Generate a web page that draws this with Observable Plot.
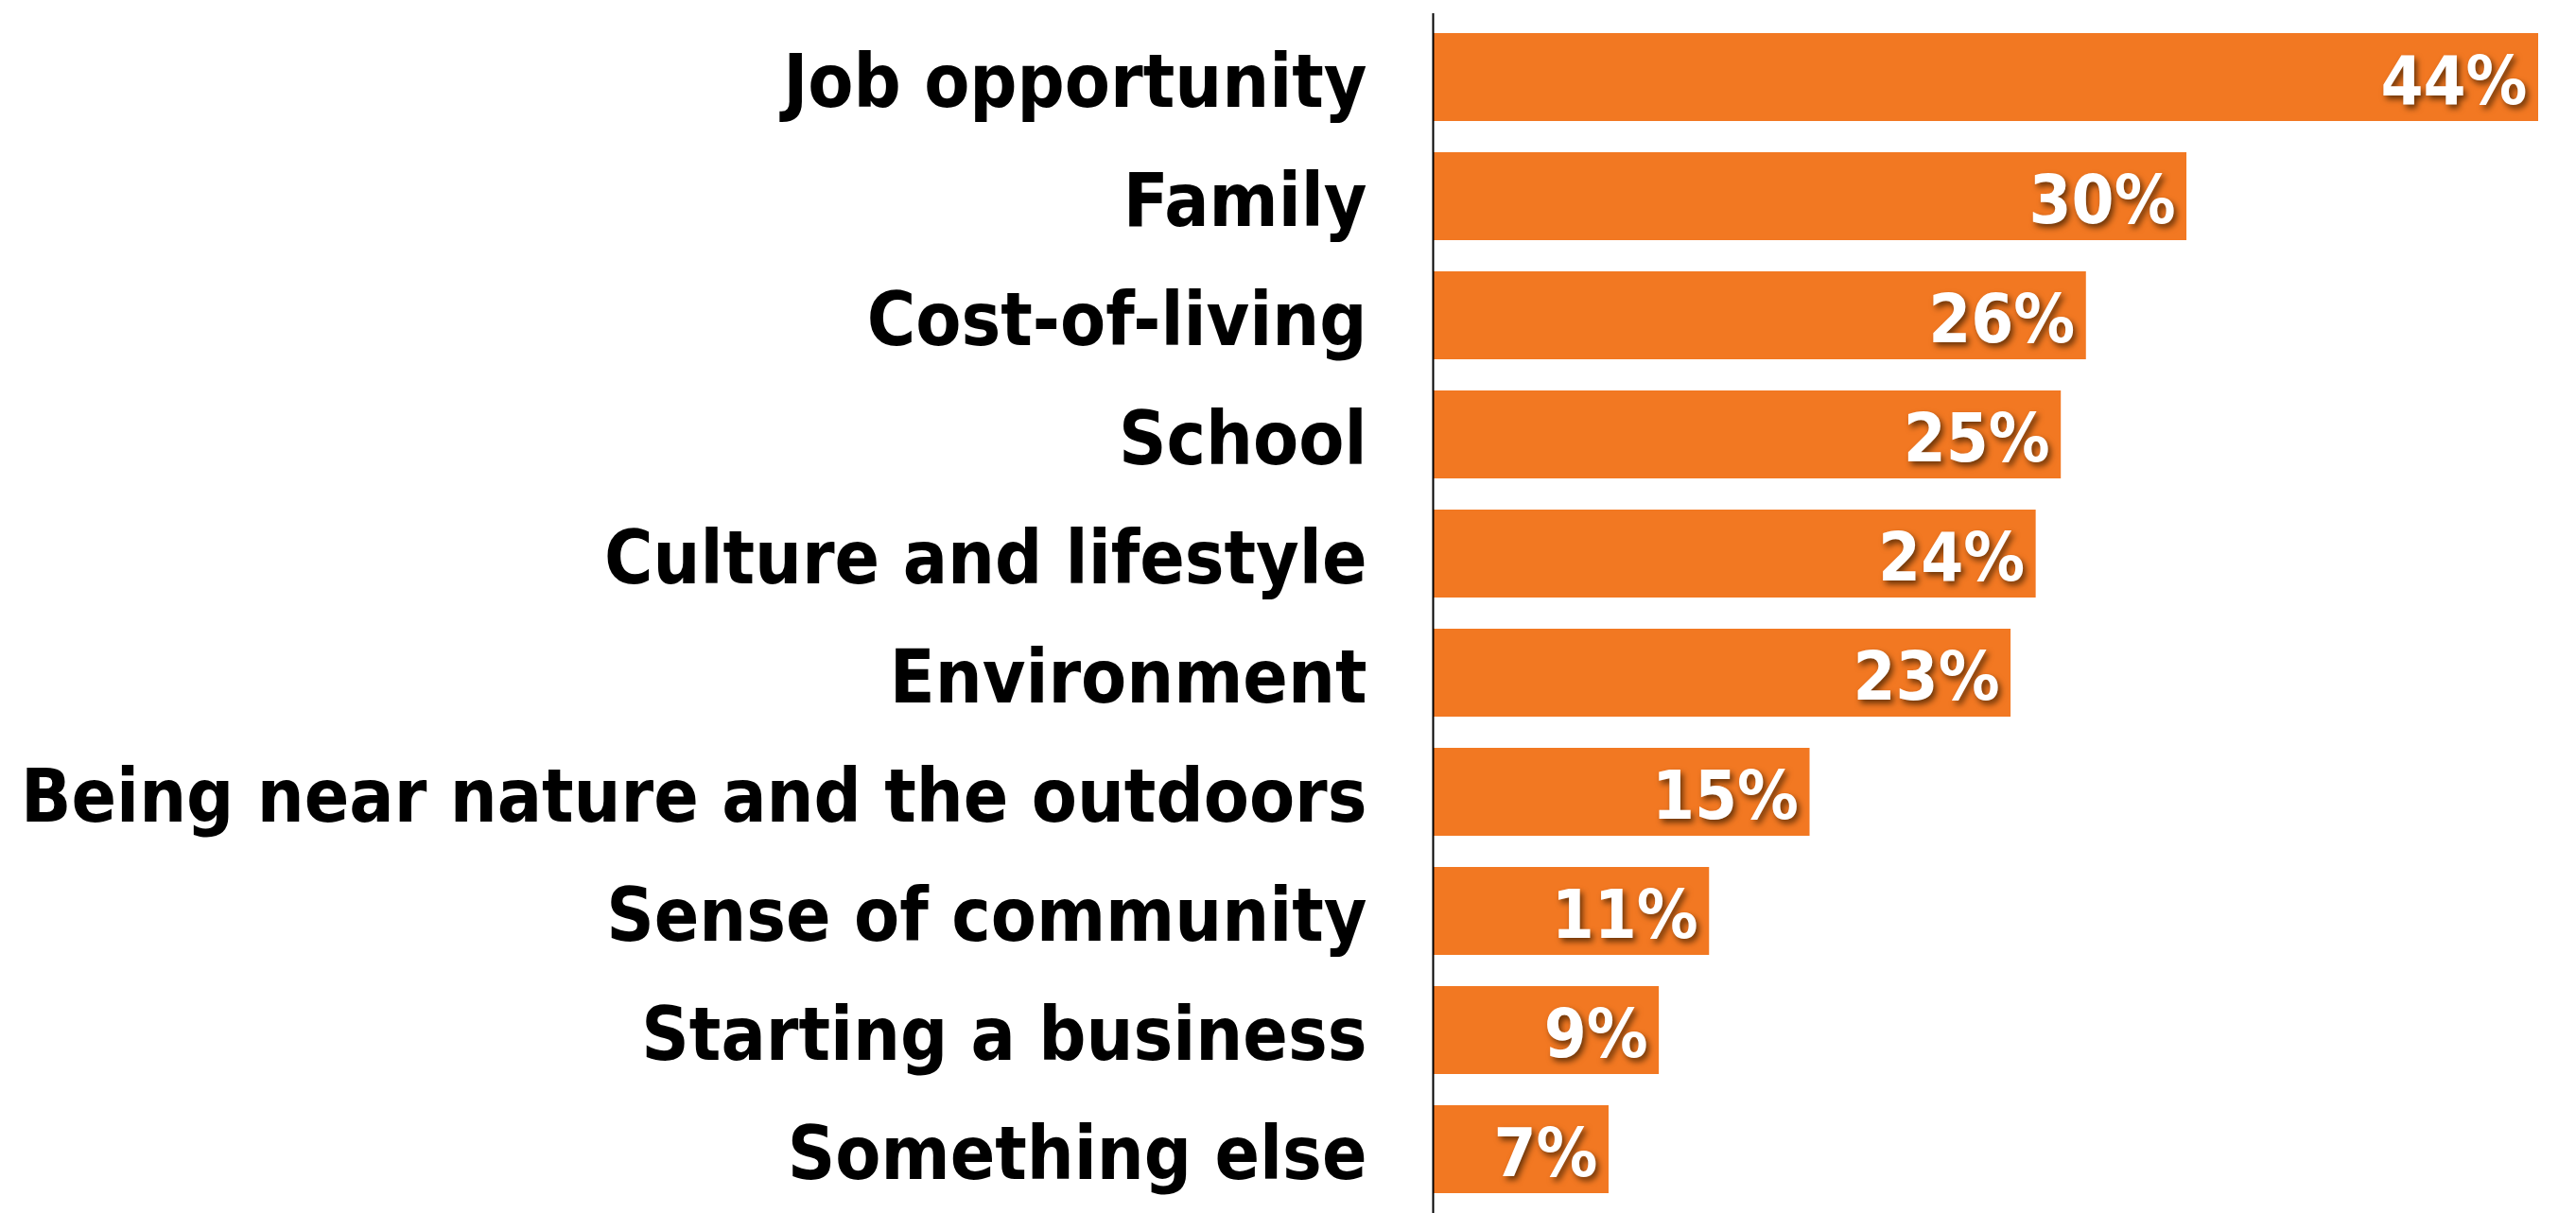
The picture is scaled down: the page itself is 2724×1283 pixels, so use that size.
<!DOCTYPE html>
<html>
<head>
<meta charset="utf-8">
<script src="https://cdn.jsdelivr.net/npm/d3@7"></script>
<script src="https://cdn.jsdelivr.net/npm/@observablehq/plot@0.6"></script>
<style>
  html, body { margin: 0; padding: 0; background: #fff; }
  #chart svg { display: block; }
  #chart g[aria-label="text"] text { filter: drop-shadow(3px 4px 3px rgba(60,30,0,0.75)); }
</style>
</head>
<body>
<div id="chart"></div>
<script>
const categories = [
  "Job opportunity",
  "Family",
  "Cost-of-living",
  "School",
  "Culture and lifestyle",
  "Environment",
  "Being near nature and the outdoors",
  "Sense of community",
  "Starting a business",
  "Something else"
];
const values = [44, 30, 26, 25, 24, 23, 15, 11, 9, 7];

const data = categories.map((c, i) => ({category: c, value: values[i]}));
const font = "'DejaVu Sans Condensed', 'DejaVu Sans', sans-serif";

const chart = Plot.plot({
  width: 2724,
  height: 1283,
  marginLeft: 1515,
  marginRight: 40,
  marginTop: 14,
  marginBottom: 0,
  style: {fontFamily: font, fontStretch: "condensed", background: "#fff"},
  x: {domain: [0, 44], axis: null},
  y: {domain: categories, paddingInner: 0.26, paddingOuter: 0.13, label: null},
  marks: [
    Plot.barX(data, {x: "value", y: "category", fill: "#F27822"}),
    Plot.axisY({tickSize: 0, tickPadding: 70, fontSize: 78, fontWeight: "bold", fill: "#000", dy: 6}),
    Plot.ruleX([0], {stroke: "#000", strokeWidth: 2}),
    Plot.text(data, {
      x: "value", y: "category", text: d => d.value + "%",
      textAnchor: "end", dx: -12, dy: 5, fill: "#fff", fontSize: 72, fontWeight: "bold"
    })
  ]
});
document.getElementById("chart").appendChild(chart);
</script>
</body>
</html>
